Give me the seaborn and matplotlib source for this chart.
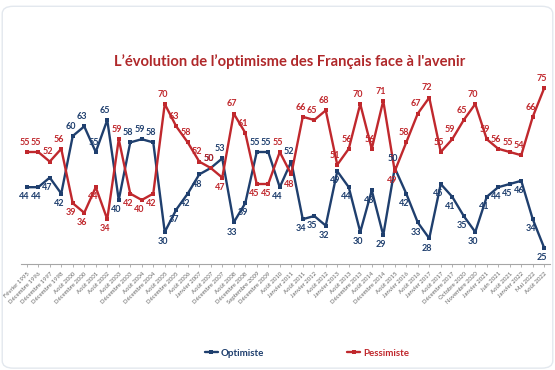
import pandas as pd
import seaborn as sns
import matplotlib.pyplot as plt
from matplotlib.patches import FancyBboxPatch

# survey dates (x axis)
dates = ['Février 1995', 'Décembre 1996', 'Décembre 1997', 'Décembre 1998', 'Août 2000',
         'Décembre 2000', 'Août 2001', 'Août 2002', 'Août 2003', 'Décembre 2003',
         'Août 2004', 'Décembre 2004', 'Août 2005', 'Décembre 2005', 'Août 2006',
         'Janvier 2007', 'Août 2007', 'Décembre 2007', 'Août 2008', 'Décembre 2008',
         'Septembre 2009', 'Décembre 2009', 'Août 2010', 'Janvier 2011', 'Août 2011',
         'Janvier 2012', 'Août 2012', 'Janvier 2013', 'Août 2013', 'Décembre 2013',
         'Août 2014', 'Décembre 2014', 'Août 2015', 'Janvier 2016', 'Août 2016',
         'Janvier 2017', 'Août 2017', 'Décembre 2017', 'Octobre 2020', 'Novembre 2020',
         'Janvier 2021', 'Juin 2021', 'Août 2021', 'Janvier 2022', 'Mai 2022', 'Août 2022']

optimiste = [44, 44, 47, 42, 60, 63, 55, 65, 40, 58, 59, 58, 30, 37, 42, 48, 50, 53, 33, 39,
             55, 55, 44, 52, 34, 35, 32, 49, 44, 30, 43, 29, 50, 42, 33, 28, 45, 41, 35, 30,
             41, 44, 45, 46, 34, 25]

pessimiste = [55, 55, 52, 56, 39, 36, 44, 34, 59, 42, 40, 42, 70, 63, 58, 52, 50, 47, 67, 61,
              45, 45, 55, 48, 66, 65, 68, 51, 56, 70, 56, 71, 49, 58, 67, 72, 55, 59, 65, 70,
              59, 56, 55, 54, 66, 75]

colors = {'Optimiste': '#1F3F6E', 'Pessimiste': '#C0282D'}

df = pd.DataFrame({'date': dates, 'Optimiste': optimiste, 'Pessimiste': pessimiste})
df['pos'] = range(len(df))
long = df.melt(id_vars=['date', 'pos'], value_vars=['Optimiste', 'Pessimiste'],
               var_name='serie', value_name='pct')

sns.set_theme(style='white')
plt.rcParams['font.family'] = ['Lato', 'DejaVu Sans']

fig = plt.figure(figsize=(5.55, 3.7), dpi=100)
ax = fig.add_axes([21 / 555, 1 - 264 / 370, 529 / 555, 192 / 370])

sns.lineplot(data=long, x='pos', y='pct', hue='serie', palette=colors, marker='s',
             markersize=3.5, markeredgewidth=0, linewidth=1.7, ax=ax, legend=False)

# data labels: above when the series is the higher one, below otherwise
for i in range(len(dates)):
    o, p = optimiste[i], pessimiste[i]
    for v, other, name in [(o, p, 'Optimiste'), (p, o, 'Pessimiste')]:
        dy = 7 if v >= other else -7
        ax.annotate(str(v), (i, v), xytext=(-1.5, dy), textcoords='offset points',
                    ha='center', va='center', fontsize=6.5, fontweight='bold',
                    color=colors[name])

ax.set_xlim(-0.5, len(dates) - 0.5)
ax.set_ylim(20, 80)
ax.set_xticks(range(len(dates)))
ax.set_xticklabels(dates, rotation=45, ha='right', rotation_mode='anchor',
                   fontsize=4.3, color='#666666')
ax.set_yticks([])
ax.set_xlabel('')
ax.set_ylabel('')
sns.despine(ax=ax, left=True)
ax.spines['bottom'].set_color('#A6A6A6')
ax.spines['bottom'].set_linewidth(0.8)
ax.tick_params(axis='x', bottom=True, length=2.5, width=0.6, color='#A6A6A6', pad=2.5)

fig.text(290 / 555, 1 - 62 / 370, "L\u2019évolution de l\u2019optimisme des Français face à l'avenir",
         ha='center', va='center', fontsize=10.6, fontweight='bold', color='#B0282A')

handles = ax.get_lines()[:2]
fig.legend(handles, ['Optimiste', 'Pessimiste'], loc='center', bbox_to_anchor=(307 / 555, 1 - 353 / 370),
           ncol=2, frameon=False, prop={'weight': 'bold', 'size': 7},
           labelcolor='linecolor', handlelength=1.3, handletextpad=0.3, columnspacing=8.6)

fig.patches.append(FancyBboxPatch((0.004, 0.005), 0.992, 0.978, boxstyle='round,pad=0,rounding_size=0.02',
                                  transform=fig.transFigure, fill=False, edgecolor='#E3E8EE',
                                  linewidth=1.0))

plt.savefig('out.png', dpi=100)
